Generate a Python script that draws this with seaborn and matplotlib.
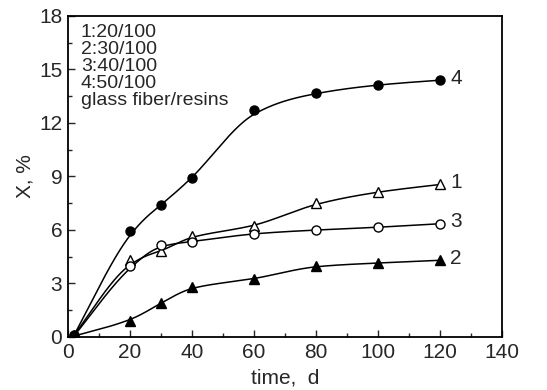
import numpy as np
import pandas as pd
import matplotlib
matplotlib.use("Agg")
import matplotlib.pyplot as plt
import seaborn as sns
from matplotlib.ticker import MultipleLocator

time_d = [2, 20, 30, 40, 60, 80, 100, 120]
x1 = [0.1, 4.3, 4.8, 5.65, 6.2, 7.5, 8.15, 8.55]      # 1:20/100 open triangle
x2 = [0.05, 0.9, 1.9, 2.8, 3.25, 4.0, 4.15, 4.3]      # 2:30/100 filled triangle
x3 = [0.05, 4.0, 5.15, 5.35, 5.8, 6.0, 6.15, 6.35]    # 3:40/100 open circle
x4 = [0.1, 5.95, 7.4, 8.9, 12.75, 13.7, 14.15, 14.4]  # 4:50/100 filled circle
series_names = ["1", "2", "3", "4"]
legend_lines = ["1:20/100", "2:30/100", "3:40/100", "4:50/100", "glass fiber/resins"]
xticks = [0, 20, 40, 60, 80, 100, 120, 140]
yticks = [0, 3, 6, 9, 12, 15, 18]


def bspline(px, py, n=600, k=3):
    """Clamped uniform B-spline using the data points as control points."""
    P = np.column_stack([px, py]).astype(float)
    m = len(P)
    knots = np.concatenate([np.zeros(k), np.linspace(0, 1, m - k + 1), np.ones(k)])
    u = np.linspace(0, 1, n)
    u[-1] = 1 - 1e-12

    def N(i, p, t):
        if p == 0:
            return np.where((knots[i] <= t) & (t < knots[i + 1]), 1.0, 0.0)
        a = 0.0 if knots[i + p] == knots[i] else (t - knots[i]) / (knots[i + p] - knots[i]) * N(i, p - 1, t)
        b = 0.0 if knots[i + p + 1] == knots[i + 1] else (knots[i + p + 1] - t) / (knots[i + p + 1] - knots[i + 1]) * N(i + 1, p - 1, t)
        return a + b

    B = np.array([N(i, k, u) for i in range(m)])
    C = B.T @ P
    return C[:, 0], C[:, 1]


def pchip(x, y, xs):
    x = np.asarray(x, float); y = np.asarray(y, float)
    h = np.diff(x); d = np.diff(y) / h
    m = np.zeros_like(y)
    for k in range(1, len(x) - 1):
        if d[k - 1] * d[k] > 0:
            w1 = 2 * h[k] + h[k - 1]; w2 = h[k] + 2 * h[k - 1]
            m[k] = (w1 + w2) / (w1 / d[k - 1] + w2 / d[k])
    m[0] = d[0]; m[-1] = d[-1]
    idx = np.clip(np.searchsorted(x, xs) - 1, 0, len(x) - 2)
    t = (xs - x[idx]) / h[idx]
    h00 = 2 * t**3 - 3 * t**2 + 1; h10 = t**3 - 2 * t**2 + t
    h01 = -2 * t**3 + 3 * t**2; h11 = t**3 - t**2
    return h00 * y[idx] + h10 * h[idx] * m[idx] + h01 * y[idx + 1] + h11 * h[idx] * m[idx + 1]


def smooth_curve(px, py, w=0.55):
    bx, by = bspline(px, py)
    xs = np.linspace(min(px), max(px), 400)
    yb = np.interp(xs, bx, by)
    yp = pchip(px, py, xs)
    return xs, w * yb + (1 - w) * yp


sns.set_theme(style="ticks")
plt.rcParams["font.family"] = ["Liberation Sans", "DejaVu Sans"]

fig, ax = plt.subplots(figsize=(5.47, 3.90), dpi=100)
fig.subplots_adjust(left=0.124, right=0.918, top=0.959, bottom=0.136)

styles = {
    "1": dict(marker="^", fc="white"),
    "2": dict(marker="^", fc="black"),
    "3": dict(marker="o", fc="white"),
    "4": dict(marker="o", fc="black"),
}
data = {"1": x1, "2": x2, "3": x3, "4": x4}
for name in series_names:
    cx, cy = smooth_curve(time_d, data[name])
    sns.lineplot(x=cx, y=cy, ax=ax, color="black", lw=1.1, estimator=None, sort=False)
    st = styles[name]
    ax.plot(time_d, data[name], linestyle="none", marker=st["marker"],
            mfc=st["fc"], mec="black", mew=1.0, ms=7 if st["marker"] == "^" else 6.5, zorder=3)
    ax.text(time_d[-1] + 3.2, data[name][-1] + 0.1, name, fontsize=15, va="center", ha="left")

ax.text(0.03, 0.975, "\n".join(legend_lines), transform=ax.transAxes, fontsize=14,
        va="top", ha="left", linespacing=1.0)

ax.set_xlim(0, 140)
ax.set_ylim(0, 18)
ax.set_xticks(xticks)
ax.set_yticks(yticks)
ax.xaxis.set_minor_locator(MultipleLocator(10))
ax.yaxis.set_minor_locator(MultipleLocator(1.5))
ax.tick_params(which="both", direction="in", top=False, right=False, labelsize=15, width=1)
ax.tick_params(which="major", length=5, pad=4)
ax.tick_params(which="minor", length=3)
for s in ax.spines.values():
    s.set_linewidth(1.3)
    s.set_color("black")
ax.set_xlabel("time,  d", fontsize=15, labelpad=5)
ax.set_ylabel("X, %", fontsize=15, labelpad=3)

fig.savefig("out.png", dpi=100)
